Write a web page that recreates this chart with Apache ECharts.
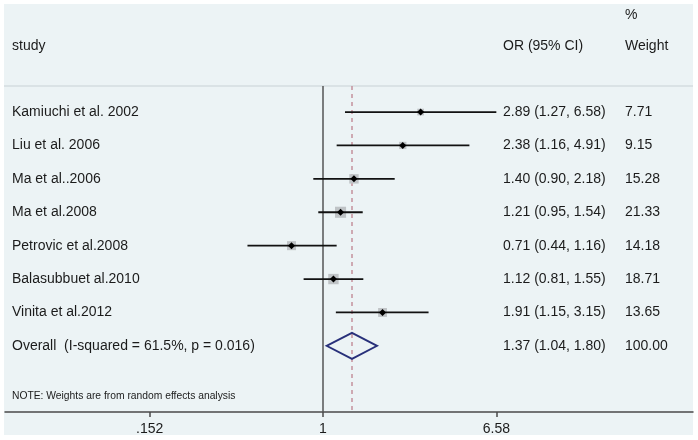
<!DOCTYPE html>
<html>
<head>
<meta charset="utf-8">
<script src="https://cdn.jsdelivr.net/npm/echarts@6/dist/echarts.min.js"></script>
<style>
html,body{margin:0;padding:0;background:#ffffff;}
#chart{width:698px;height:440px;}
</style>
</head>
<body>
<div id="chart"></div>
<script>
// ---- data ----
var studies = ['Kamiuchi et al. 2002','Liu et al. 2006','Ma et al..2006','Ma et al.2008','Petrovic et al.2008','Balasubbuet al.2010','Vinita et al.2012'];
var orValues = [2.89, 2.38, 1.40, 1.21, 0.71, 1.12, 1.91];
var ciLower  = [1.27, 1.16, 0.90, 0.95, 0.44, 0.81, 1.15];
var ciUpper  = [6.58, 4.91, 2.18, 1.54, 1.16, 1.55, 3.15];
var weights  = [7.71, 9.15, 15.28, 21.33, 14.18, 18.71, 13.65];
var overallLabel = 'Overall  (I-squared = 61.5%, p = 0.016)';
var overallOR = 1.37, overallLower = 1.04, overallUpper = 1.80, overallWeight = 100.00;
var tickValues = [0.152, 1, 6.58];
var tickLabels = ['.152', '1', '6.58'];
var noteText = 'NOTE: Weights are from random effects analysis';

var FONT = '"Liberation Sans", Arial, Helvetica, sans-serif';
var FS = '14px ';
var TXT = '#1b1b1b';
var ln = Math.log;

var rows = studies.map(function (s, i) {
  return [i, ln(orValues[i]), ln(ciLower[i]), ln(ciUpper[i]), weights[i]];
});
var overallRow = [[studies.length, ln(overallOR), ln(overallLower), ln(overallUpper), overallWeight]];

function fmt(v) { return v.toFixed(2); }

var chart = echarts.init(document.getElementById('chart'), null, {renderer: 'canvas'});

var option = {
  animation: false,
  backgroundColor: '#ffffff',
  graphic: [
    {type: 'rect', z: -10, shape: {x: 4, y: 4, width: 689, height: 431}, style: {fill: '#ecf3f5'}},
    {type: 'line', shape: {x1: 4, y1: 86, x2: 693, y2: 86}, style: {stroke: '#d4dcdf', lineWidth: 1.5}},
    {type: 'text', x: 625, y: 15, style: {text: '%', font: FS + FONT, fill: TXT, verticalAlign: 'middle'}},
    {type: 'text', x: 12, y: 46, style: {text: 'study', font: FS + FONT, fill: TXT, verticalAlign: 'middle'}},
    {type: 'text', x: 503, y: 46, style: {text: 'OR (95% CI)', font: FS + FONT, fill: TXT, verticalAlign: 'middle'}},
    {type: 'text', x: 625, y: 46, style: {text: 'Weight', font: FS + FONT, fill: TXT, verticalAlign: 'middle'}},
    {type: 'text', x: 12, y: 396, style: {text: noteText, font: '10.3px ' + FONT, fill: TXT, verticalAlign: 'middle'}}
  ],
  grid: {left: 5, right: 5, top: 86, height: 326, containLabel: false},
  xAxis: {
    type: 'value',
    min: -3.4565,
    max: 4.0217,
    splitLine: {show: false},
    axisLine: {show: true, onZero: false, lineStyle: {color: '#4a4a4a', width: 1.5}},
    axisTick: {show: true, customValues: tickValues.map(ln), length: 5, lineStyle: {color: '#4a4a4a', width: 1.5}},
    axisLabel: {
      customValues: tickValues.map(ln),
      color: TXT, fontFamily: FONT, fontSize: 14, margin: 10,
      formatter: function (v) {
        for (var k = 0; k < tickValues.length; k++) {
          if (Math.abs(ln(tickValues[k]) - v) < 1e-6) return tickLabels[k];
        }
        return '';
      }
    }
  },
  yAxis: {
    type: 'value', inverse: true, min: -0.78, max: 8.98,
    show: false
  },
  series: [
    {
      type: 'custom',
      z: 5,
      data: rows,
      renderItem: function (params, api) {
        var i = api.value(0);
        var c = api.coord([api.value(1), i]);
        var l = api.coord([api.value(2), i]);
        var u = api.coord([api.value(3), i]);
        var w = api.value(4);
        var side = 2.4 * Math.sqrt(w);
        var y = c[1];
        return {
          type: 'group',
          children: [
            {type: 'rect', shape: {x: c[0] - side / 2, y: y - side / 2, width: side, height: side}, style: {fill: '#bfc3c6'}},
            {type: 'line', shape: {x1: l[0], y1: y, x2: u[0], y2: y}, style: {stroke: '#111111', lineWidth: 1.8}},
            {type: 'polygon', shape: {points: [[c[0] - 3.5, y], [c[0], y - 3.5], [c[0] + 3.5, y], [c[0], y + 3.5]]}, style: {fill: '#000000'}},
            {type: 'text', x: 12, y: y, style: {text: studies[i], font: FS + FONT, fill: TXT, verticalAlign: 'middle'}},
            {type: 'text', x: 503, y: y, style: {text: fmt(orValues[i]) + ' (' + fmt(ciLower[i]) + ', ' + fmt(ciUpper[i]) + ')', font: FS + FONT, fill: TXT, verticalAlign: 'middle'}},
            {type: 'text', x: 625, y: y, style: {text: fmt(w), font: FS + FONT, fill: TXT, verticalAlign: 'middle'}}
          ]
        };
      },
      markLine: {
        silent: true,
        symbol: 'none',
        label: {show: false},
        data: [
          {xAxis: 0, lineStyle: {color: '#555555', width: 1.5, type: 'solid'}},
          {xAxis: ln(overallOR), lineStyle: {color: '#c4919c', width: 1.5, type: [4, 4]}}
        ]
      }
    },
    {
      type: 'custom',
      z: 6,
      data: overallRow,
      renderItem: function (params, api) {
        var i = api.value(0);
        var c = api.coord([api.value(1), i]);
        var l = api.coord([api.value(2), i]);
        var u = api.coord([api.value(3), i]);
        var y = c[1];
        var h = 13;
        return {
          type: 'group',
          children: [
            {type: 'polygon', shape: {points: [[l[0], y], [c[0], y - h], [u[0], y], [c[0], y + h]]}, style: {fill: 'none', stroke: '#28307a', lineWidth: 1.8}},
            {type: 'text', x: 12, y: y, style: {text: overallLabel, font: FS + FONT, fill: TXT, verticalAlign: 'middle'}},
            {type: 'text', x: 503, y: y, style: {text: fmt(overallOR) + ' (' + fmt(overallLower) + ', ' + fmt(overallUpper) + ')', font: FS + FONT, fill: TXT, verticalAlign: 'middle'}},
            {type: 'text', x: 625, y: y, style: {text: fmt(api.value(4)), font: FS + FONT, fill: TXT, verticalAlign: 'middle'}}
          ]
        };
      }
    }
  ]
};
chart.setOption(option);
</script>
</body>
</html>
